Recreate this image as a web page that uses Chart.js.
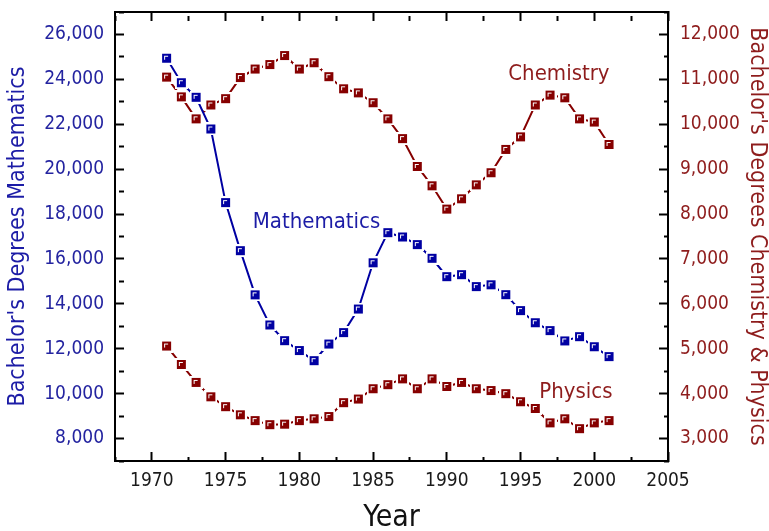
<!DOCTYPE html>
<html>
<head>
<meta charset="utf-8">
<script src="https://cdn.jsdelivr.net/npm/chart.js@4.4.1/dist/chart.umd.min.js"></script>
<style>
  html,body{margin:0;padding:0;background:#fff}
  #wrap{width:769px;height:531px;position:relative}
</style>
</head>
<body>
<div id="wrap"><canvas id="chart"></canvas></div>
<script>
// ─── DATA ───────────────────────────────────────────────────────────
const YEARS = [1971,1972,1973,1974,1975,1976,1977,1978,1979,1980,1981,1982,1983,1984,1985,1986,
               1987,1988,1989,1990,1991,1992,1993,1994,1995,1996,1997,1998,1999,2000,2001];
const MATH = [24940,23850,23200,21790,18510,16370,14400,13060,12360,11920,11470,12210,12720,13770,15830,17170,
              16980,16640,16030,15210,15300,14770,14850,14410,13700,13160,12810,12350,12540,12090,11650];
const CHEM = [11050,10610,10120,10430,10570,11040,11230,11330,11530,11230,11370,11060,10790,10700,10480,10120,
              9680,9060,8630,8110,8340,8650,8920,9440,9720,10430,10650,10590,10120,10050,9550];
const PHYS = [5060,4650,4250,3930,3710,3530,3400,3310,3320,3400,3440,3490,3800,3880,4110,4200,
              4330,4110,4330,4160,4250,4110,4070,4000,3820,3670,3350,3440,3220,3350,3400];
const X_RANGE = [1967.5, 2005];
const LEFT_RANGE = [7000, 27000];
const RIGHT_RANGE = [2500, 12500];
const NOTES = [
  {text:'Mathematics', x:1976.84, y:17366, axis:'y',  color:'#1c1ca6'},
  {text:'Chemistry',   x:1994.17, y:10986, axis:'y2', color:'#8e1c1c'},
  {text:'Physics',     x:1996.27, y:3897,  axis:'y2', color:'#8e1c1c'}
];

const FONT = '"DejaVu Sans Condensed","DejaVu Sans",sans-serif';
const BLUE = '#0000a2', RED = '#860000';

// square marker with white inner corner and a white halo (gap in the line)
function marker(col){
  const c = document.createElement('canvas');
  c.width = 13; c.height = 13;
  const g = c.getContext('2d');
  g.fillStyle = '#fff'; g.fillRect(0,0,13,13);
  g.fillStyle = col;    g.fillRect(2,2,9,9);
  g.fillStyle = '#fff'; g.fillRect(4,4,4,1); g.fillRect(4,4,1,4);
  return c;
}

const pts = vals => YEARS.map((x,i)=>({x, y:vals[i]}));
const minorDash = major => ctx => (ctx.tick && ctx.tick.value % major !== 0) ? [5,60] : [];
const fmtNum = v => Number(v).toLocaleString('en-US');
// fixed box sizes, no extra padding from edge labels
const fixV = w => s => { s.width = w; s.paddingTop = 0; s.paddingBottom = 0; };
const fixH = h => s => { s.height = h; s.paddingLeft = 0; s.paddingRight = 0; };

const notesPlugin = {
  id:'notes',
  afterDatasetsDraw(chart){
    const {ctx, scales} = chart;
    ctx.save();
    ctx.font = '22px ' + FONT;
    ctx.textAlign = 'left';
    ctx.textBaseline = 'alphabetic';
    NOTES.forEach(n=>{
      ctx.fillStyle = n.color;
      ctx.fillText(n.text, scales.x.getPixelForValue(n.x), scales[n.axis].getPixelForValue(n.y));
    });
    ctx.restore();
  }
};

const lineDs = (label, vals, col, axis) => ({
  label, data:pts(vals), yAxisID:axis, borderColor:col, borderWidth:2,
  pointStyle:marker(col), pointRadius:6, pointHoverRadius:6, tension:0, fill:false
});

new Chart(document.getElementById('chart'), {
  type:'line',
  data:{datasets:[
    lineDs('Mathematics', MATH, BLUE, 'y'),
    lineDs('Chemistry', CHEM, RED, 'y2'),
    lineDs('Physics', PHYS, RED, 'y2')
  ]},
  options:{
    responsive:true, maintainAspectRatio:false, animation:false,
    layout:{padding:{top:12, left:0, right:0, bottom:0}},
    plugins:{legend:{display:false}, tooltip:{enabled:false}},
    scales:{
      x:{type:'linear', position:'bottom', min:X_RANGE[0], max:X_RANGE[1],
        ticks:{stepSize:2.5, autoSkip:false, maxRotation:0, padding:18, color:'#1a1a1a',
          font:{family:FONT, size:19}, callback:v=>v%5===0?String(v):''},
        grid:{drawOnChartArea:false, tickLength:-9, tickWidth:2, tickColor:'#000', tickBorderDash:minorDash(5)},
        border:{color:'#000', width:2},
        title:{display:true, text:'Year', color:'#111', font:{family:FONT, size:30, lineHeight:1}, padding:{top:0,bottom:-2}},
        afterFit:fixH(70)},
      xTop:{type:'linear', position:'top', min:X_RANGE[0], max:X_RANGE[1],
        ticks:{stepSize:2.5, autoSkip:false, display:false},
        grid:{drawOnChartArea:false, tickLength:-9, tickWidth:2, tickColor:'#000', tickBorderDash:minorDash(5)},
        border:{color:'#000', width:2},
        afterFit:fixH(0)},
      y:{type:'linear', position:'left', min:LEFT_RANGE[0], max:LEFT_RANGE[1],
        ticks:{stepSize:1000, autoSkip:false, padding:20, color:'#2424a0',
          font:{family:FONT, size:19}, callback:v=>v%2000===0?fmtNum(v):''},
        grid:{drawOnChartArea:false, tickLength:-9, tickWidth:2, tickColor:'#000', tickBorderDash:minorDash(2000)},
        border:{color:'#000', width:2},
        title:{display:true, text:"Bachelor's Degrees Mathematics", color:'#1c1ca6', font:{family:FONT, size:23, lineHeight:1}, padding:{top:7,bottom:0}},
        afterFit:fixV(115)},
      y2:{type:'linear', position:'right', min:RIGHT_RANGE[0], max:RIGHT_RANGE[1],
        ticks:{stepSize:500, autoSkip:false, padding:21, color:'#8e1c1c',
          font:{family:FONT, size:19}, callback:v=>v%1000===0?fmtNum(v):''},
        grid:{drawOnChartArea:false, tickLength:-9, tickWidth:2, tickColor:'#000', tickBorderDash:minorDash(1000)},
        border:{color:'#000', width:2},
        title:{display:true, text:"Bachelor's Degrees Chemistry & Physics", color:'#8e1c1c', font:{family:FONT, size:23, lineHeight:1}, padding:{top:1,bottom:0}},
        afterFit:fixV(101)}
    }
  },
  plugins:[notesPlugin]
});
</script>
</body>
</html>
